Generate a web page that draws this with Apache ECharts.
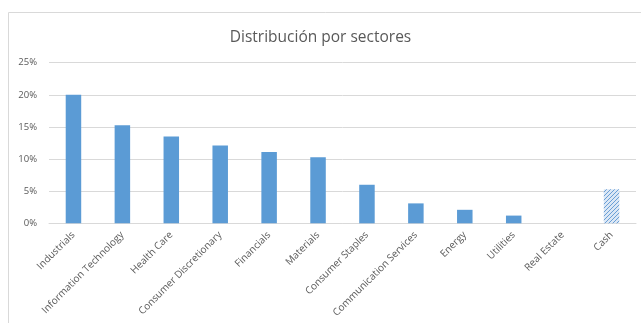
<!DOCTYPE html>
<html><head><meta charset="utf-8">
<script src="https://cdn.jsdelivr.net/npm/echarts@6/dist/echarts.min.js"></script>
<style>html,body{margin:0;padding:0;background:#fff}#c{width:641px;height:323px}</style>
</head><body><div id="c"></div>
<script>
const categories = ['Industrials','Information Technology','Health Care','Consumer Discretionary','Financials','Materials','Consumer Staples','Communication Services','Energy','Utilities','Real Estate','Cash'];
const values = [20.0, 15.25, 13.5, 12.1, 11.1, 10.3, 6.0, 3.1, 2.1, 1.2, 0, 5.3];
const hatchedIndex = 11;
const yTicks = [0, 5, 10, 15, 20, 25];

function hatch() {
  const c = document.createElement('canvas');
  c.width = 4; c.height = 4;
  const g = c.getContext('2d');
  g.fillStyle = '#dbe7f5'; g.fillRect(0,0,4,4);
  g.strokeStyle = '#6a9fd6'; g.lineWidth = 1;
  g.beginPath(); g.moveTo(0,4); g.lineTo(4,0); g.moveTo(-1,1); g.lineTo(1,-1); g.moveTo(3,5); g.lineTo(5,3); g.stroke();
  return { image: c, repeat: 'repeat' };
}

const chart = echarts.init(document.getElementById('c'), null, {renderer:'canvas'});
const font = '"Open Sans", "Liberation Sans", sans-serif';
chart.setOption({
  animation: false,
  title: { text: 'Distribución por sectores', left: 'center', top: 25,
    textStyle: { fontFamily: font, fontSize: 15.5, fontWeight: 'normal', color: '#595959' } },
  graphic: [{ type: 'rect', shape: { x: 8.5, y: 12.5, width: 700, height: 400 },
    style: { fill: 'none', stroke: '#d9d9d9', lineWidth: 1 }, silent: true, z: -1 }],
  grid: { left: 49, right: 5, top: 62.7, bottom: 99.7, containLabel: false },
  xAxis: { type: 'category', data: categories,
    axisLine: { lineStyle: { color: '#d9d9d9' } }, axisTick: { show: false },
    axisLabel: { rotate: 45, interval: 0, fontFamily: font, fontSize: 10, color: '#595959', margin: 10, padding: [12, 0, 0, 0] } },
  yAxis: { type: 'value', min: yTicks[0], max: yTicks[yTicks.length-1], interval: 5,
    axisLine: { show: false }, axisTick: { show: false },
    splitLine: { lineStyle: { color: '#d9d9d9' } },
    axisLabel: { formatter: '{value}%', fontFamily: font, fontSize: 9.5, color: '#595959', margin: 12 } },
  series: [{ type: 'bar', barWidth: 15.5,
    data: values.map((v,i) => i === hatchedIndex ? { value: v, itemStyle: { color: hatch() } } : v),
    itemStyle: { color: '#5b9bd5' } }]
});
</script></body></html>
